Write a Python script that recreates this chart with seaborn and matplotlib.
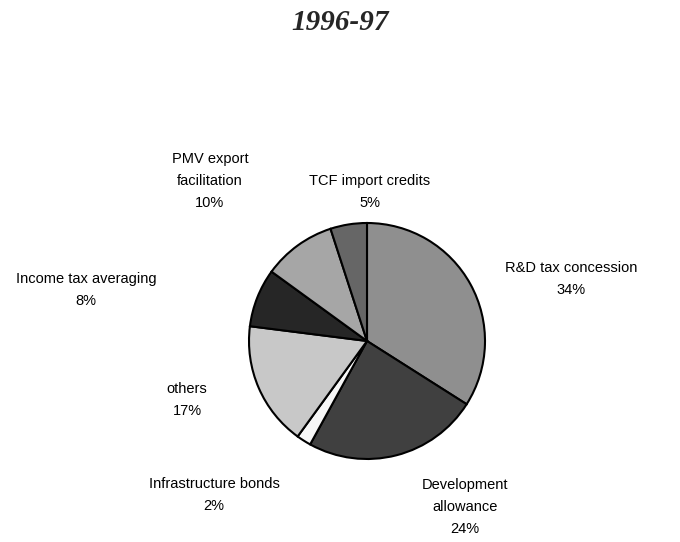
import matplotlib
matplotlib.use("Agg")
import matplotlib.pyplot as plt
import seaborn as sns

categories = ["R&D tax concession", "Development\nallowance", "Infrastructure bonds",
              "others", "Income tax averaging", "PMV export\nfacilitation", "TCF import credits"]
shares = [34, 24, 2, 17, 8, 10, 5]
colors = ["#8f8f8f", "#404040", "#f7f7f7", "#c8c8c8", "#262626", "#a6a6a6", "#666666"]
# label centre positions in pixels (x, y from top)
label_pos = [(571, 279), (465, 507), (214, 495), (187, 400), (86, 290), (210, 181), (370, 192)]

sns.set_theme(style="white")
plt.rcParams['font.family'] = ['Liberation Sans', 'DejaVu Sans']

W, H = 680, 542
fig = plt.figure(figsize=(W / 100, H / 100), dpi=100)
ax = fig.add_axes([0, 0, 1, 1])

ax.pie(shares, colors=colors, startangle=90, counterclock=False,
       center=(367, H - 341), radius=118, frame=True,
       wedgeprops=dict(edgecolor="black", linewidth=1.5))
ax.set_xlim(0, W)
ax.set_ylim(0, H)
ax.set_aspect("equal")
ax.axis("off")

for cat, val, (x, y) in zip(categories, shares, label_pos):
    ax.text(x, H - y, f"{cat}\n{val}%", ha="center", va="center",
            fontsize=10.5, linespacing=1.75, color="black")

ax.text(W / 2, H - 23, "1996-97", ha="center", va="center", fontsize=21,
        fontweight="bold", fontstyle="italic", family=["Liberation Serif", "DejaVu Serif"])

fig.savefig("out.png", dpi=100)
